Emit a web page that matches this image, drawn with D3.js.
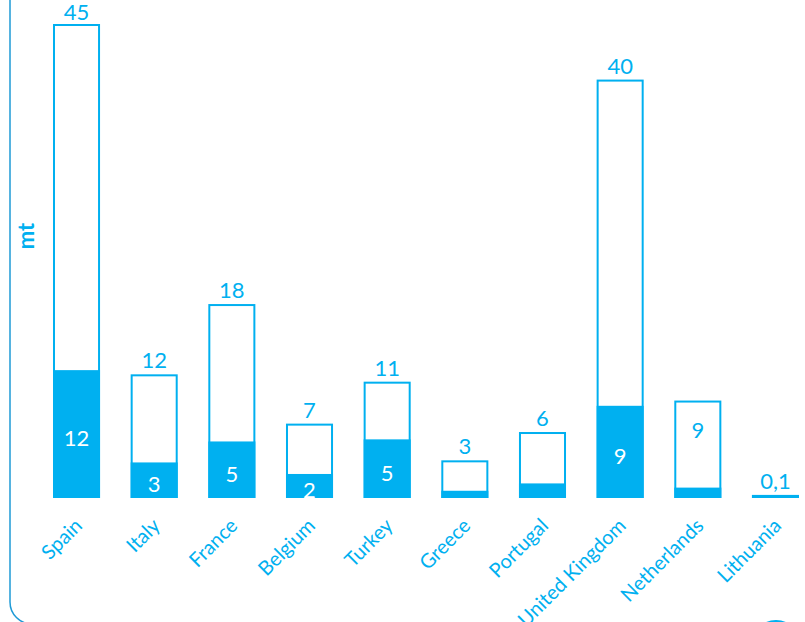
<!DOCTYPE html>
<html>
<head>
<meta charset="utf-8">
<script src="https://cdn.jsdelivr.net/npm/d3@7"></script>
<style>
  body { margin: 0; background: #fff; }
  svg { display: block; font-family: Lato, "Open Sans", sans-serif; }
</style>
</head>
<body>
<div id="chart"></div>
<script>
// categories and values (mt)
const countries = ["Spain", "Italy", "France", "Belgium", "Turkey", "Greece", "Portugal", "United Kingdom", "Netherlands", "Lithuania"];
const totals = [45.0, 11.6, 18.3, 6.9, 10.9, 3.4, 6.1, 39.7, 9.1, 0.1];
const filled = [12.0, 3.2, 5.2, 2.1, 5.4, 0.5, 1.2, 8.6, 0.8, 0.1];
const totalLabels = ["45", "12", "18", "7", "11", "3", "6", "40", "9", "0,1"];
const filledLabels = ["12", "3", "5", "2", "5", "", "", "9", "", ""];
const labelInside = ["Netherlands"];

const width = 805, height = 622;
const blue = "#00b0f0";

const svg = d3.select("#chart")
  .append("svg")
  .attr("width", width)
  .attr("height", height);

// frame: rounded box, only left and bottom show
svg.append("rect")
  .attr("x", 10)
  .attr("y", -40)
  .attr("width", 900)
  .attr("height", 664)
  .attr("rx", 22)
  .attr("fill", "none")
  .attr("stroke", "#1f9ad6")
  .attr("stroke-width", 1.5);

// edge of a shape peeking in at the bottom right
svg.append("ellipse")
  .attr("cx", 776)
  .attr("cy", 646)
  .attr("rx", 24)
  .attr("ry", 25)
  .attr("fill", "none")
  .attr("stroke", blue)
  .attr("stroke-width", 2);

const x = d3.scaleBand()
  .domain(countries)
  .range([54, 798])
  .paddingInner(0.42)
  .paddingOuter(0);

const y = d3.scaleLinear()
  .domain([0, 45])
  .range([497, 25]);

const data = countries.map((c, i) => ({
  country: c,
  total: totals[i],
  fill: filled[i],
  totalLabel: totalLabels[i],
  fillLabel: filledLabels[i]
}));

// outline bars (totals)
svg.append("g")
  .selectAll("rect")
  .data(data)
  .enter().append("rect")
  .attr("x", d => x(d.country))
  .attr("y", d => y(d.total))
  .attr("width", x.bandwidth())
  .attr("height", d => y(0) - y(d.total))
  .attr("fill", "#fff")
  .attr("stroke", blue)
  .attr("stroke-width", 2);

// filled part
svg.append("g")
  .selectAll("rect")
  .data(data)
  .enter().append("rect")
  .attr("x", d => x(d.country))
  .attr("y", d => y(d.fill))
  .attr("width", x.bandwidth())
  .attr("height", d => y(0) - y(d.fill))
  .attr("fill", blue)
  .attr("stroke", blue)
  .attr("stroke-width", 2);

// total labels, above the bar (or inside near the top)
svg.append("g")
  .selectAll("text")
  .data(data)
  .enter().append("text")
  .attr("x", d => x(d.country) + x.bandwidth() / 2)
  .attr("y", d => labelInside.includes(d.country) ? y(d.total) + 36 : Math.max(20, y(d.total) - 7))
  .attr("text-anchor", "middle")
  .attr("font-size", "22px")
  .attr("fill", blue)
  .text(d => d.totalLabel);

// labels in the filled part
svg.append("g")
  .selectAll("text")
  .data(data.filter(d => d.fillLabel))
  .enter().append("text")
  .attr("x", d => x(d.country) + x.bandwidth() / 2)
  .attr("y", d => (y(d.fill) + y(0)) / 2 + 12)
  .attr("text-anchor", "middle")
  .attr("font-size", "22px")
  .attr("fill", "#fff")
  .text(d => d.fillLabel);

// category labels, slanted
svg.append("g")
  .selectAll("text")
  .data(countries)
  .enter().append("text")
  .attr("transform", d => `translate(${x(d) + x.bandwidth() / 2 + 7},${527}) rotate(-45)`)
  .attr("text-anchor", "end")
  .attr("font-size", "20px")
  .attr("fill", blue)
  .text(d => d);

// axis title
svg.append("text")
  .attr("transform", "translate(34,236) rotate(-90)")
  .attr("text-anchor", "middle")
  .attr("font-size", "22px")
  .attr("font-weight", "bold")
  .attr("fill", blue)
  .text("mt");
</script>
</body>
</html>
